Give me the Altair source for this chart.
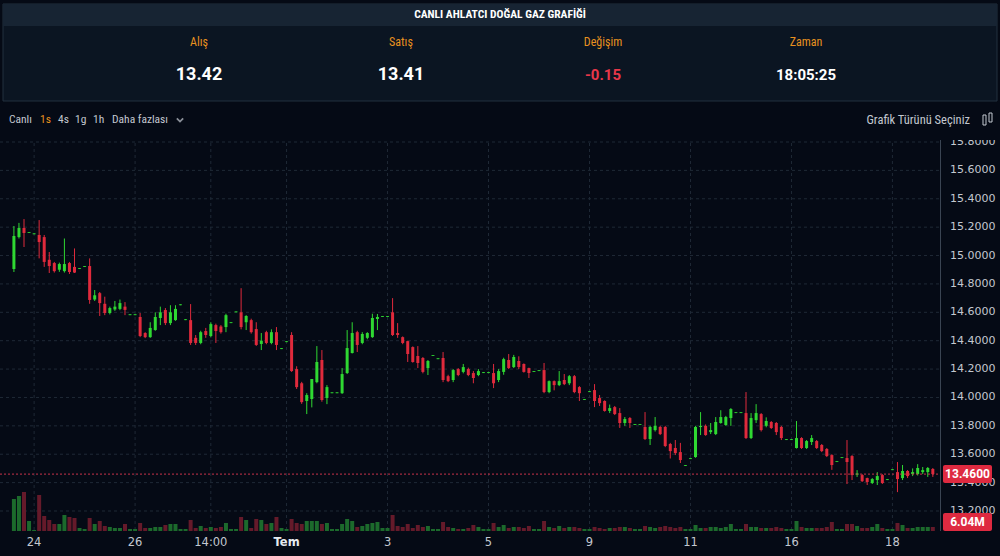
import altair as alt
import pandas as pd

# ---------------- data ----------------
opens = [
    14.905, 15.13, 15.194, 15.16, 15.15, 15.145, 15.13, 14.97, 14.947, 14.9,
    14.89, 14.947, 14.92, 14.905, 14.92, 14.926, 14.69, 14.735, 14.66, 14.595,
    14.62, 14.624, 14.64, 14.58, 14.58, 14.567, 14.454, 14.425, 14.475, 14.56,
    14.616, 14.524, 14.545, 14.65, 14.545, 14.545, 14.42, 14.384, 14.468, 14.433,
    14.51, 14.5, 14.496, 14.524, 14.6, 14.6, 14.53, 14.545, 14.482, 14.377,
    14.46, 14.384, 14.46, 14.341, 14.39, 14.44, 14.2, 14.1, 13.975, 13.989,
    14.108, 14.264, 13.996, 14.03, 14.03, 14.03, 14.172, 14.313, 14.46, 14.384,
    14.42, 14.425, 14.553, 14.567, 14.567, 14.6, 14.454, 14.425, 14.397, 14.355,
    14.292, 14.278, 14.207, 14.292, 14.27, 14.278, 14.15, 14.123, 14.2, 14.18,
    14.2, 14.172, 14.158, 14.172, 14.172, 14.172, 14.123, 14.18, 14.264, 14.214,
    14.257, 14.236, 14.207, 14.18, 14.186, 14.193, 14.038, 14.115, 14.087, 14.123,
    14.1, 14.15, 14.073, 13.982, 14.038, 14.052, 13.996, 13.975, 13.905, 13.932,
    13.89, 13.82, 13.855, 13.806, 13.806, 13.792, 13.707, 13.77, 13.792, 13.792,
    13.672, 13.644, 13.615, 13.517, 13.566, 13.58, 13.792, 13.8, 13.756, 13.742,
    13.82, 13.806, 13.855, 13.89, 13.89, 13.89, 13.714, 13.84, 13.883, 13.8,
    13.827, 13.82, 13.792, 13.7, 13.7, 13.644, 13.714, 13.644, 13.686, 13.693,
    13.665, 13.637, 13.594, 13.545, 13.573, 13.573, 13.587, 13.455, 13.453, 13.432,
    13.397, 13.418, 13.453, 13.418, 13.488, 13.474, 13.432, 13.482, 13.46, 13.46,
    13.474, 13.474, 13.496,
]
closes = [
    15.138, 15.194, 15.159, 15.166, 15.156, 15.095, 14.955, 14.926, 14.89, 14.94,
    14.94, 14.884, 14.88, 14.911, 14.926, 14.687, 14.72, 14.665, 14.595, 14.63,
    14.64, 14.665, 14.617, 14.586, 14.586, 14.433, 14.425, 14.49, 14.567, 14.6,
    14.524, 14.6, 14.624, 14.656, 14.551, 14.384, 14.384, 14.46, 14.44, 14.517,
    14.468, 14.46, 14.58, 14.53, 14.606, 14.496, 14.574, 14.46, 14.37, 14.4,
    14.384, 14.46, 14.37, 14.347, 14.396, 14.186, 14.073, 13.967, 14.017, 14.13,
    14.25, 13.982, 14.073, 14.036, 14.036, 14.165, 14.348, 14.454, 14.37, 14.447,
    14.454, 14.56, 14.567, 14.573, 14.573, 14.44, 14.44, 14.384, 14.306, 14.25,
    14.243, 14.18, 14.257, 14.298, 14.276, 14.123, 14.115, 14.193, 14.158, 14.214,
    14.158, 14.137, 14.186, 14.178, 14.178, 14.1, 14.186, 14.27, 14.207, 14.285,
    14.214, 14.18, 14.172, 14.186, 14.192, 14.038, 14.115, 14.087, 14.115, 14.094,
    14.15, 14.038, 14.03, 13.988, 14.044, 13.975, 13.96, 13.905, 13.925, 13.883,
    13.82, 13.848, 13.82, 13.812, 13.812, 13.707, 13.792, 13.8, 13.742, 13.658,
    13.622, 13.608, 13.559, 13.523, 13.572, 13.792, 13.8, 13.735, 13.77, 13.827,
    13.862, 13.862, 13.918, 13.896, 13.896, 13.714, 13.855, 13.89, 13.77, 13.834,
    13.785, 13.756, 13.714, 13.706, 13.706, 13.714, 13.644, 13.693, 13.714, 13.644,
    13.622, 13.587, 13.524, 13.551, 13.579, 13.545, 13.453, 13.465, 13.41, 13.404,
    13.425, 13.446, 13.397, 13.424, 13.494, 13.425, 13.482, 13.446, 13.474, 13.503,
    13.488, 13.503, 13.46,
]
highs = [
    15.208, 15.23, 15.257, 15.166, 15.156, 15.25, 15.145, 15.025, 14.955, 14.95,
    15.12, 14.955, 15.05, 14.911, 14.926, 14.98, 14.757, 14.743, 14.71, 14.64,
    14.68, 14.69, 14.672, 14.586, 14.586, 14.595, 14.46, 14.53, 14.6, 14.64,
    14.63, 14.65, 14.65, 14.656, 14.551, 14.658, 14.44, 14.47, 14.49, 14.53,
    14.52, 14.51, 14.59, 14.53, 14.606, 14.77, 14.58, 14.555, 14.53, 14.454,
    14.47, 14.48, 14.496, 14.347, 14.396, 14.46, 14.22, 14.11, 14.03, 14.13,
    14.362, 14.334, 14.087, 14.036, 14.036, 14.207, 14.475, 14.53, 14.47, 14.46,
    14.46, 14.59, 14.588, 14.573, 14.573, 14.7, 14.524, 14.43, 14.4, 14.36,
    14.362, 14.285, 14.264, 14.298, 14.276, 14.32, 14.16, 14.2, 14.207, 14.236,
    14.21, 14.186, 14.2, 14.178, 14.178, 14.236, 14.2, 14.28, 14.306, 14.3,
    14.29, 14.24, 14.21, 14.186, 14.192, 14.243, 14.12, 14.12, 14.186, 14.165,
    14.158, 14.158, 14.08, 13.988, 14.044, 14.094, 14.017, 13.98, 13.95, 13.94,
    13.925, 13.862, 13.862, 13.812, 13.812, 13.897, 13.8, 13.862, 13.8, 13.8,
    13.68, 13.7, 13.68, 13.523, 13.572, 13.8, 13.897, 13.81, 13.82, 13.862,
    13.91, 13.87, 13.925, 13.896, 13.896, 14.038, 13.89, 13.953, 13.89, 13.86,
    13.834, 13.827, 13.8, 13.706, 13.706, 13.834, 13.72, 13.7, 13.735, 13.7,
    13.672, 13.644, 13.6, 13.551, 13.579, 13.7, 13.594, 13.488, 13.46, 13.435,
    13.432, 13.474, 13.46, 13.424, 13.494, 13.545, 13.524, 13.488, 13.5, 13.53,
    13.51, 13.51, 13.503,
]
lows = [
    14.884, 15.12, 15.06, 15.16, 15.15, 14.98, 14.92, 14.877, 14.88, 14.885,
    14.88, 14.87, 14.877, 14.905, 14.92, 14.66, 14.68, 14.574, 14.58, 14.585,
    14.61, 14.615, 14.58, 14.58, 14.58, 14.425, 14.418, 14.42, 14.47, 14.51,
    14.51, 14.51, 14.54, 14.65, 14.545, 14.37, 14.37, 14.375, 14.42, 14.425,
    14.384, 14.45, 14.46, 14.524, 14.6, 14.48, 14.475, 14.45, 14.363, 14.334,
    14.375, 14.375, 14.334, 14.341, 14.39, 14.18, 14.06, 13.955, 13.883, 13.93,
    14.1, 13.97, 13.953, 14.03, 14.03, 14.025, 14.165, 14.31, 14.32, 14.375,
    14.41, 14.42, 14.475, 14.567, 14.567, 14.433, 14.42, 14.375, 14.25, 14.245,
    14.207, 14.17, 14.158, 14.292, 14.27, 14.108, 14.108, 14.108, 14.15, 14.17,
    14.15, 14.1, 14.15, 14.172, 14.172, 14.066, 14.108, 14.16, 14.2, 14.207,
    14.2, 14.175, 14.137, 14.18, 14.186, 14.03, 14.03, 14.05, 14.08, 14.087,
    14.087, 14.03, 13.975, 13.982, 14.038, 13.932, 13.94, 13.9, 13.89, 13.876,
    13.785, 13.8, 13.785, 13.806, 13.806, 13.7, 13.665, 13.76, 13.735, 13.65,
    13.57, 13.594, 13.538, 13.517, 13.566, 13.575, 13.735, 13.73, 13.742, 13.735,
    13.815, 13.8, 13.8, 13.89, 13.89, 13.707, 13.707, 13.82, 13.76, 13.79,
    13.778, 13.735, 13.7, 13.7, 13.7, 13.64, 13.637, 13.637, 13.665, 13.637,
    13.615, 13.58, 13.49, 13.545, 13.573, 13.39, 13.418, 13.44, 13.404, 13.383,
    13.39, 13.383, 13.39, 13.418, 13.488, 13.333, 13.418, 13.432, 13.446, 13.45,
    13.46, 13.44, 13.44,
]
volumes = [
    32, 35, 39, 10, 1, 36, 15, 11, 7, 7,
    16, 14, 13, 3, 2, 13, 7, 10, 5, 4,
    3, 3, 7, 2, 2, 8, 3, 3, 4, 4,
    6, 7, 7, 2, 2, 11, 3, 5, 3, 4,
    3, 4, 8, 2, 2, 14, 11, 3, 12, 11,
    7, 8, 14, 3, 2, 12, 8, 7, 10, 10,
    10, 7, 8, 2, 2, 7, 12, 10, 4, 5,
    7, 8, 9, 3, 3, 16, 5, 4, 7, 3,
    6, 4, 5, 2, 2, 9, 4, 3, 2, 2,
    3, 6, 4, 2, 2, 8, 4, 6, 3, 4,
    4, 3, 5, 2, 2, 10, 4, 3, 5, 3,
    4, 4, 3, 2, 2, 4, 3, 2, 3, 3,
    4, 4, 3, 2, 2, 5, 4, 3, 4, 5,
    4, 3, 4, 2, 2, 6, 3, 3, 4, 4,
    3, 4, 7, 2, 2, 7, 4, 4, 3, 3,
    3, 4, 3, 2, 2, 10, 4, 3, 3, 3,
    3, 4, 9, 2, 2, 7, 7, 5, 3, 3,
    4, 7, 3, 2, 2, 8, 6, 3, 3, 4,
    4, 4, 4,
]

x_tick_index = [4, 24, 39, 54, 74, 94, 114, 134, 154, 174]
x_tick_label = ["24", "26", "14:00", "Tem", "3", "5", "9", "11", "16", "18"]
x_tick_bold = [False, False, False, True, False, False, False, False, False, False]
y_ticks = [13.2, 13.4, 13.6, 13.8, 14.0, 14.2, 14.4, 14.6, 14.8, 15.0, 15.2, 15.4, 15.6, 15.8]
last_price = 13.46
last_price_label = "13.4600"
last_volume_label = "6.04M"

header_labels = ["Alış", "Satış", "Değişim", "Zaman"]
header_values = ["13.42", "13.41", "-0.15", "18:05:25"]
title = "CANLI AHLATCI DOĞAL GAZ GRAFİĞİ"

# ---------------- style ----------------
BG = "#050a15"
PANEL = "#0b1522"
TITLEBAR = "#172433"
GRID = "#1f2936"
GREEN = "#2fd832"
RED = "#e02a3c"
VGREEN = "#1c6a2c"
VRED = "#651a2a"
TAG = "#de2a40"
ORANGE = "#e8911f"
LABEL = "#c3c8d0"
NARROW = "Liberation Sans Narrow, Roboto Condensed, Arial Narrow, Roboto, sans-serif"

n = len(opens)
df = pd.DataFrame({
    "i": list(range(n)), "o": opens, "h": highs, "l": lows, "c": closes, "v": volumes,
})
df["dir"] = ["up" if c >= o else "down" for o, c in zip(opens, closes)]
df["vdir"] = ["vup" if c >= o else "vdown" for o, c in zip(opens, closes)]
df["vbase"] = 0

xscale = alt.Scale(domain=[-1.7647, 194.314], nice=False, zero=False)
pscale = alt.Scale(domain=[12.8829, 16.8006], nice=False, zero=False)
vscale = alt.Scale(domain=[-25, 531], nice=False, zero=False)
cscale = alt.Scale(domain=["up", "down"], range=[GREEN, RED])
vcscale = alt.Scale(domain=["vup", "vdown"], range=[VGREEN, VRED])

one = alt.Data(values=[{"k": 1}])


def rect(x, x2, y, y2, fill, stroke=None, sw=0, r=0):
    kw = dict(fill=fill, strokeWidth=sw, cornerRadius=r)
    if stroke:
        kw["stroke"] = stroke
    return alt.Chart(one).mark_rect(**kw).encode(
        x=alt.value(x), x2=alt.value(x2), y=alt.value(y), y2=alt.value(y2))


def txt(s, x, y, size, color, weight="normal", align="center", font=NARROW):
    return alt.Chart(alt.Data(values=[{"s": s}])).mark_text(
        fontSize=size, color=color, fontWeight=weight, align=align,
        baseline="middle", font=font).encode(
        x=alt.value(x), y=alt.value(y), text="s:N")


layers = []
# header panel
layers.append(rect(3, 997, 4, 101, PANEL, "#22303f", 1))
layers.append(rect(3, 997, 4, 26, TITLEBAR))
layers.append(txt(title, 500, 15, 11.5, "#ffffff", "bold"))
hx = [199, 401, 603, 806]
for k in range(4):
    layers.append(txt(header_labels[k], hx[k], 42, 12, ORANGE))
    col = "#e8374a" if header_values[k].startswith("-") else "#ffffff"
    size = 18 if k < 2 else 15
    layers.append(txt(header_values[k], hx[k], 75, size, col, "bold", font="Roboto"))

# gridlines
hgrid = alt.Chart(pd.DataFrame({"p": y_ticks})).mark_rule(
    color=GRID, strokeDash=[3, 3], strokeWidth=1).encode(
    y=alt.Y("p:Q", scale=pscale, axis=None), x=alt.value(0), x2=alt.value(940))
vgrid = alt.Chart(pd.DataFrame({"i": x_tick_index})).mark_rule(
    color=GRID, strokeDash=[3, 3], strokeWidth=1).encode(
    x=alt.X("i:Q", scale=xscale, axis=None), y=alt.value(137), y2=alt.value(531))
layers += [hgrid, vgrid]

base = alt.Chart(df)
vol = base.mark_bar(size=4).encode(
    x=alt.X("i:Q", scale=xscale, axis=None),
    y=alt.Y("v:Q", scale=vscale, axis=None),
    y2="vbase:Q",
    color=alt.Color("vdir:N", scale=vcscale, legend=None))
wick = base.mark_rule(strokeWidth=1).encode(
    x=alt.X("i:Q", scale=xscale, axis=None),
    y=alt.Y("l:Q", scale=pscale, axis=None),
    y2="h:Q",
    color=alt.Color("dir:N", scale=cscale, legend=None))
body = base.mark_bar(size=3).encode(
    x=alt.X("i:Q", scale=xscale, axis=None),
    y=alt.Y("o:Q", scale=pscale, axis=None),
    y2="c:Q",
    color=alt.Color("dir:N", scale=cscale, legend=None))
layers += [vol, wick, body]

# last price line
layers.append(alt.Chart(pd.DataFrame({"p": [last_price]})).mark_rule(
    color="#c8334a", strokeDash=[2, 2], strokeWidth=1).encode(
    y=alt.Y("p:Q", scale=pscale, axis=None), x=alt.value(0), x2=alt.value(940)))

# right axis line and labels
layers.append(alt.Chart(one).mark_rule(color="#3a4452").encode(
    x=alt.value(940.5), y=alt.value(133), y2=alt.value(531)))
layers.append(alt.Chart(pd.DataFrame({"p": y_ticks, "s": [f"{t:.4f}" for t in y_ticks]})).mark_text(
    align="left", baseline="middle", fontSize=11, color=LABEL, font="DejaVu Sans").encode(
    y=alt.Y("p:Q", scale=pscale, axis=None), x=alt.value(950), text="s:N"))

# toolbar band covers top of chart
layers.append(rect(0, 1000, 102, 140, BG))
layers.append(txt("Canlı", 9, 120, 11.5, LABEL, align="left"))
layers.append(txt("1s", 40, 120, 11.5, ORANGE, align="left"))
layers.append(txt("4s", 58, 120, 11.5, LABEL, align="left"))
layers.append(txt("1g", 75, 120, 11.5, LABEL, align="left"))
layers.append(txt("1h", 93, 120, 11.5, LABEL, align="left"))
layers.append(txt("Daha fazlası", 112, 120, 11.5, LABEL, align="left"))
layers.append(alt.Chart(one).mark_point(
    shape="M-1,-0.5L0,0.5L1,-0.5", size=40, filled=False, color=LABEL, strokeWidth=1.8).encode(
    x=alt.value(180), y=alt.value(120)))
layers.append(txt("Grafik Türünü Seçiniz", 970, 120, 12.5, LABEL, align="right"))
layers.append(rect(983, 986, 115, 125, "none", LABEL, 1))
layers.append(rect(989, 992, 113, 122, "none", LABEL, 1))

# value tags
layers.append(rect(943, 992, 465, 483, TAG, r=2))
layers.append(txt(last_price_label, 967.5, 474, 12, "#ffffff", "bold", font="Roboto"))
layers.append(rect(943, 992, 513, 531, TAG, r=2))
layers.append(txt(last_volume_label, 967.5, 522, 12, "#ffffff", "bold", font="Roboto"))

# x labels
xl = pd.DataFrame({"i": x_tick_index, "s": x_tick_label,
                   "w": ["bold" if b else "normal" for b in x_tick_bold]})
layers.append(alt.Chart(xl[~xl["w"].eq("bold")]).mark_text(
    fontSize=11.5, color=LABEL, baseline="middle", font="DejaVu Sans").encode(
    x=alt.X("i:Q", scale=xscale, axis=None), y=alt.value(543), text="s:N"))
layers.append(alt.Chart(xl[xl["w"].eq("bold")]).mark_text(
    fontSize=11.5, color="#e6e9ee", baseline="middle", fontWeight="bold", font="DejaVu Sans").encode(
    x=alt.X("i:Q", scale=xscale, axis=None), y=alt.value(543), text="s:N"))

chart = alt.layer(*layers).resolve_scale(y="independent", color="independent").properties(
    width=1000, height=556, background=BG, padding=0,
    autosize=alt.AutoSizeParams(type="none"),
).configure_view(strokeWidth=0)

chart.save("out.html", embed_options={"renderer": "svg", "actions": False})
